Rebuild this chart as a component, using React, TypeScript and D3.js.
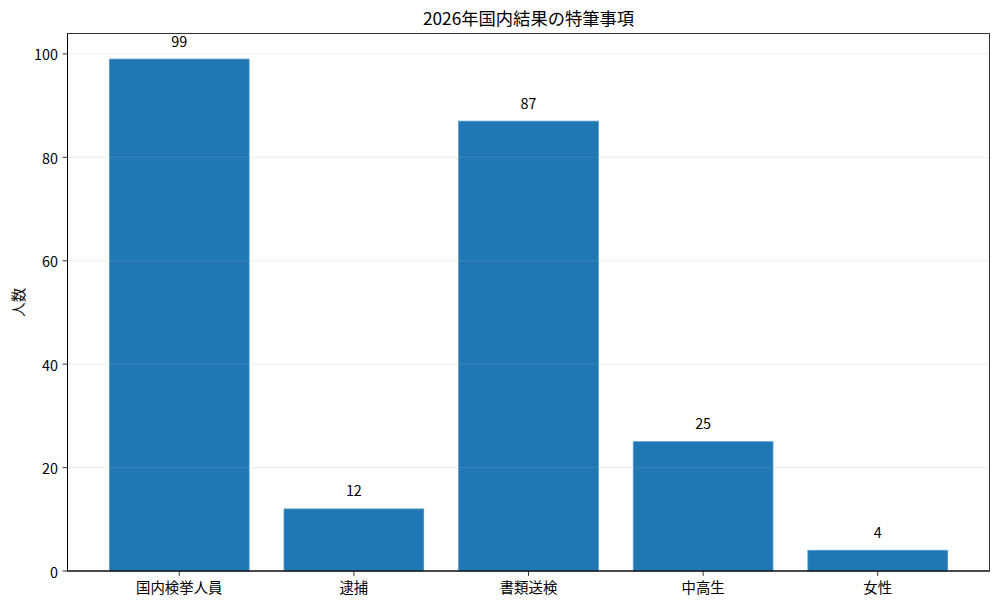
import React from "react";
import * as d3 from "d3";

const categories = ["国内検挙人員", "逮捕", "書類送検", "中高生", "女性"];
const values = [99, 12, 87, 25, 4];
const yTicks = [0, 20, 40, 60, 80, 100];
const title = "2026年国内結果の特筆事項";
const yLabel = "人数";

const W = 1000;
const H = 608;
const M = { left: 67.5, right: 989.5, top: 33.5, bottom: 571 };
const FONT = "'Noto Sans CJK JP', 'Noto Sans', sans-serif";
const FS = 14.4;

export default function App() {
  const n = categories.length;
  const x = d3
    .scaleLinear()
    .domain([-0.64, n - 1 + 0.64])
    .range([M.left, M.right]);
  const yMax = d3.max(values)! * 1.05;
  const y = d3.scaleLinear().domain([0, yMax]).range([M.bottom, M.top]);
  const bw = x(0.8) - x(0);

  return (
    <svg
      width={W}
      height={H}
      style={{ position: "absolute", left: 0, top: 0, background: "#fff" }}
      fontFamily={FONT}
    >
      <rect x={0} y={0} width={W} height={H} fill="#fff" />
      {values.map((v, i) => (
        <rect
          key={i}
          x={x(i) - bw / 2}
          y={y(v)}
          width={bw}
          height={y(0) - y(v)}
          fill="#1f77b4"
          stroke="#4a95c9"
          strokeWidth={0.8}
        />
      ))}
      {yTicks.map((t) => (
        <g key={t}>
          <line
            x1={M.left}
            x2={M.right}
            y1={y(t)}
            y2={y(t)}
            stroke="#b0b0b0"
            strokeOpacity={0.3}
            strokeWidth={0.8}
          />
          <line x1={M.left - 4.9} x2={M.left} y1={y(t)} y2={y(t)} stroke="#000" strokeWidth={0.8} />
          <text
            x={M.left - 9.5}
            y={y(t)}
            textAnchor="end"
            dominantBaseline="central"
            fontSize={FS}
            fill="#000"
          >
            {t}
          </text>
        </g>
      ))}
      {categories.map((c, i) => (
        <g key={c}>
          <line x1={x(i)} x2={x(i)} y1={M.bottom} y2={M.bottom + 4.9} stroke="#000" strokeWidth={0.8} />
          <text
            x={x(i)}
            y={M.bottom + 15.5}
            textAnchor="middle"
            dominantBaseline="central"
            fontSize={FS}
            fill="#000"
          >
            {c}
          </text>
        </g>
      ))}
      {values.map((v, i) => (
        <text
          key={i}
          x={x(i)}
          y={y(v) - 19}
          textAnchor="middle"
          dominantBaseline="central"
          fontSize={FS}
          fill="#000"
        >
          {v}
        </text>
      ))}
      <rect
        x={M.left}
        y={M.top}
        width={M.right - M.left}
        height={M.bottom - M.top}
        fill="none"
        stroke="#333"
        strokeWidth={1}
      />
      <line x1={M.left} x2={M.left} y1={M.top} y2={M.bottom} stroke="#000" strokeWidth={1} />
      <line x1={M.left} x2={M.right} y1={M.bottom} y2={M.bottom} stroke="#000" strokeWidth={1} />
      <text
        transform={`translate(17,${(M.top + M.bottom) / 2}) rotate(-90)`}
        textAnchor="middle"
        dominantBaseline="central"
        fontSize={FS}
        fill="#000"
      >
        {yLabel}
      </text>
      <text
        x={(M.left + M.right) / 2}
        y={17}
        textAnchor="middle"
        dominantBaseline="central"
        fontSize={17.3}
        fill="#000"
      >
        {title}
      </text>
    </svg>
  );
}
